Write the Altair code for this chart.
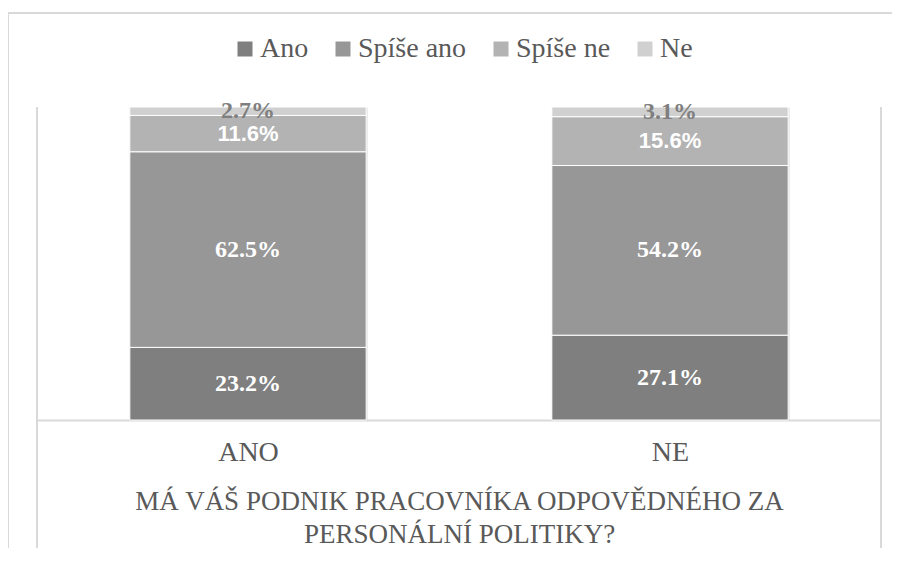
import altair as alt
import pandas as pd

groups = ["ANO", "NE"]
answers = ["Ano", "Spíše ano", "Spíše ne", "Ne"]
values_ano = [23.2, 62.5, 11.6, 2.7]
values_ne = [27.1, 54.2, 15.6, 3.1]
colors = ["#7f7f7f", "#979797", "#b3b3b3", "#d0d0d0"]
axis_title = ["MÁ VÁŠ PODNIK PRACOVNÍKA ODPOVĚDNÉHO ZA", "PERSONÁLNÍ POLITIKY?"]

rows = []
for g, vals in zip(groups, [values_ano, values_ne]):
    for i, (a, v) in enumerate(zip(answers, vals)):
        rows.append({"group": g, "answer": a, "idx": i, "value": v})
df = pd.DataFrame(rows)

SERIF = "Liberation Serif"
SANS = "Liberation Sans"
GRID = "#d9d9d9"
TXT = "#595959"

base = alt.Chart(df)

x_enc = alt.X(
    "group:N",
    sort=groups,
    scale=alt.Scale(paddingInner=0.44, paddingOuter=0.22),
    axis=alt.Axis(
        title=axis_title,
        labelAngle=0,
        labelFont=SERIF,
        labelFontSize=28,
        labelColor=TXT,
        labelPadding=18,
        ticks=False,
        tickSize=0,
        grid=True,
        gridColor=GRID,
        gridWidth=2,
        tickBand="extent",
        domainColor=GRID,
        domainWidth=2,
        titleFont=SERIF,
        titleFontSize=27,
        titleFontWeight="normal",
        titleColor=TXT,
        titlePadding=22,
        titleLineHeight=33,
    ),
)
y_scale = alt.Scale(domain=[0, 100])

bars = base.mark_bar(stroke="white", strokeWidth=1).encode(
    x=x_enc,
    y=alt.Y("value:Q", stack="zero", scale=y_scale, axis=None),
    color=alt.Color(
        "answer:N",
        scale=alt.Scale(domain=answers, range=colors),
        legend=alt.Legend(
            title=None,
            orient="none",
            direction="horizontal",
            legendX=194,
            legendY=-72,
            symbolType="square",
            symbolSize=225,
            symbolStrokeWidth=0,
            labelFont=SERIF,
            labelFontSize=28,
            labelColor=TXT,
            labelOffset=1,
            columnPadding=20,
        ),
    ),
    order=alt.Order("idx:Q", sort="ascending"),
)

lab = base.transform_stack(
    stack="value", groupby=["group"], sort=[alt.SortField("idx", order="ascending")],
    as_=["v0", "v1"],
).transform_calculate(
    mid="(datum.v0 + datum.v1) / 2",
    label="format(datum.value, '.1f') + '%'",
)

enc = dict(x=alt.X("group:N", sort=groups), y=alt.Y("mid:Q", scale=y_scale), text="label:N")

lab_serif = lab.transform_filter(
    "datum.answer == 'Ano' || datum.answer == 'Spíše ano'"
).mark_text(font=SERIF, fontSize=24, fontWeight="bold", color="white").encode(**enc)
lab_sans = lab.transform_filter("datum.answer == 'Spíše ne'").mark_text(
    font=SANS, fontSize=22, fontWeight="bold", color="white"
).encode(**enc)
lab_top = lab.transform_filter("datum.answer == 'Ne'").mark_text(
    font=SERIF, fontSize=24, fontWeight="bold", color="#7f7f7f"
).encode(**enc)

frame_top = base.mark_rule(color=GRID, strokeWidth=2).encode(
    x=alt.value(-29), x2=alt.value(870), y=alt.value(-94)
)
frame_left = base.mark_rule(color=GRID, strokeWidth=2).encode(
    x=alt.value(-29), y=alt.value(-94), y2=alt.value(460)
)
outer_l = base.mark_rule(color=GRID, strokeWidth=2).encode(
    x=alt.value(0), y=alt.value(0), y2=alt.value(446)
)
outer_r = base.mark_rule(color=GRID, strokeWidth=2).encode(
    x=alt.value(844), y=alt.value(0), y2=alt.value(446)
)

chart = alt.layer(
    frame_top, frame_left, outer_l, outer_r, bars, lab_serif, lab_sans, lab_top
).properties(
    width=844,
    height=313,
    autosize=alt.AutoSizeParams(type="none"),
    padding={"left": 29, "top": 99, "right": 11, "bottom": 128},
).configure(background="white").configure_view(stroke=None)

chart.save("out.html", embed_options={"renderer": "svg", "actions": False})
